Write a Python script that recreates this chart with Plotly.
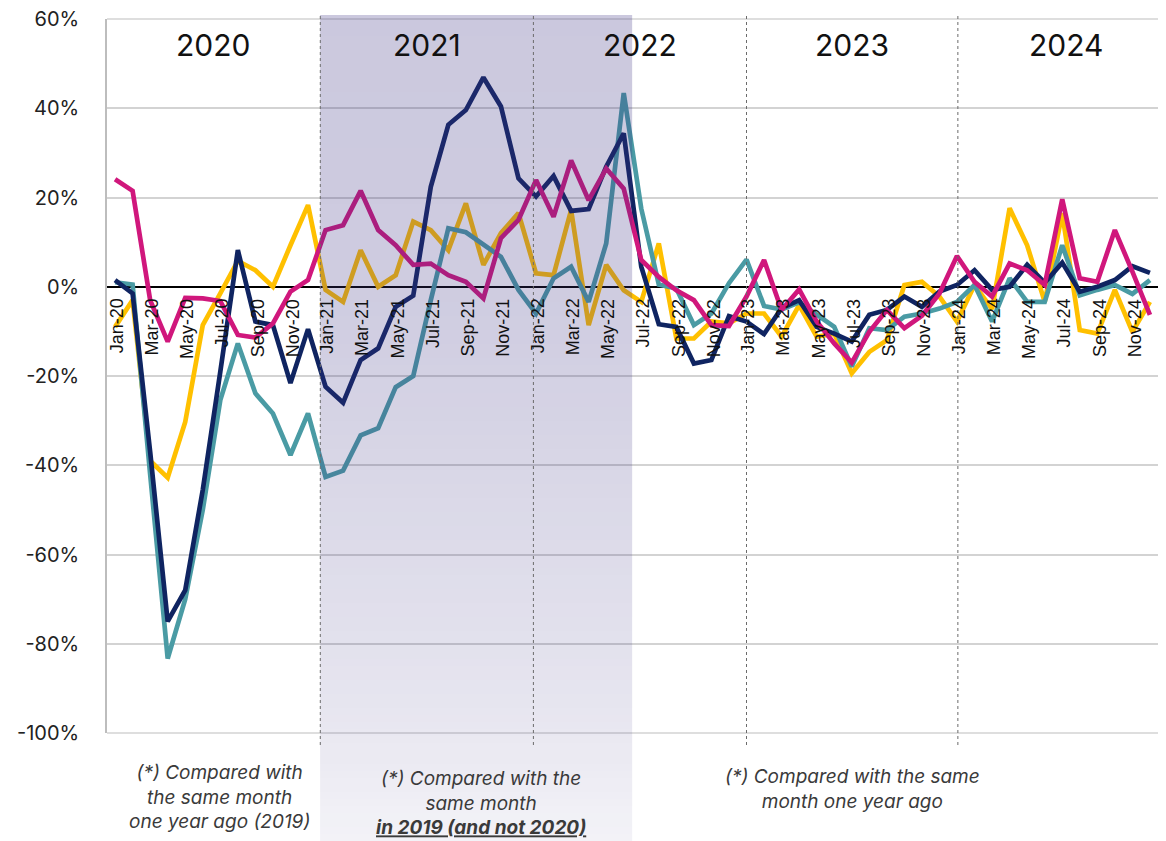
import numpy as np
import plotly.graph_objects as go

# ---- data -----------------------------------------------------------------
month_names = ["Jan", "Feb", "Mar", "Apr", "May", "Jun",
               "Jul", "Aug", "Sep", "Oct", "Nov", "Dec"]
year_suffixes = ["20", "21", "22", "23", "24"]
months = [f"{m}-{y}" for y in year_suffixes for m in month_names]

yellow = [-9, -3, -39, -42.8, -30.3, -8.6, -1.5, 5.8, 3.7, 0, 9.3, 18.3,
          -0.7, -3.4, 8.2, 0, 2.6, 14.6, 12.7, 8.2, 18.7, 4.9, 12, 16.5,
          3, 2.6, 17.2, -8.6, 4.9, -0.8, -3.4, 9.7, -11.6, -11.6, -7.8, -8.2,
          -6, -6, -11.2, -4.1, -11.2, -10.5, -19.4, -14.6, -12, 0.4, 1.1, -2.2,
          -7.8, 0.4, -5, 17.6, 9.3, -3.4, 16.5, -9.7, -10.5, -0.7, -10.1, -3.4]

teal = [1.0, 0.5, -42, -83.3, -70, -50, -25.4, -12.7, -23.9, -28.4, -37.7, -28.4,
        -42.6, -41.2, -33.3, -31.7, -22.5, -20, -3, 13.1, 12.2, 9.3, 6.7, -0.7,
        -6, 1.9, 4.5, -3.4, 9.7, 43.4, 17.5, 0.5, -0.4, -8.6, -6, 0.8,
        6.1, -4.3, -5.1, -3.5, -6.3, -9, -17.9, -9.3, -9.7, -6.7, -6.0, -4.9,
        -3.4, 0.4, -7.8, 1.9, -3.4, -3.4, 9.3, -1.9, -0.7, 0.4, -1.6, 1.5]

navy = [1.5, -1.5, -37, -75, -68, -45.5, -19, 8.2, -7.8, -8.6, -21.6, -9.5,
        -22.4, -26, -16.4, -13.8, -4.5, -2, 22.4, 36.3, 39.6, 46.9, 40.4, 24.3,
        20.2, 24.8, 17, 17.4, 26.9, 34.4, 4.5, -8.4, -9, -17.2, -16.4, -6.6,
        -7.8, -10.6, -4.8, -3, -9, -10.5, -12.3, -6.3, -5.2, -2.2, -4.5, -1.1,
        0.4, 3.7, -0.7, 0, 4.9, 0.9, 5.4, -1.1, 0, 1.5, 4.6, 3.1]

magenta = [24.1, 21.5, -3, -12.3, -2.5, -2.6, -3.2, -10.8, -11.4, -8.2, -1.1, 1.5,
           12.7, 13.8, 21.5, 12.7, 9.3, 4.9, 5.2, 2.6, 1.1, -2.6, 10.9, 15,
           23.9, 15.7, 28.3, 19.4, 26.5, 22, 6, 2.2, -0.8, -3, -8.6, -8.8,
           -2.2, 6, -5.2, -0.6, -7.8, -12.7, -17, -10.1, -5.2, -9.3, -6.5, -1.5,
           6.9, 1.1, -2.2, 5.2, 3.7, 0.4, 19.6, 1.9, 1.1, 12.7, 3.4, -6.3]

year_labels = ["2020", "2021", "2022", "2023", "2024"]
year_label_x = [5.6, 17.8, 29.9, 42.0, 54.2]
period_dividers = [11.7, 23.85, 36.0, 48.05]
band_start, band_end = 11.69, 29.48

y_min, y_max = -100, 60
y_tickvals = [60, 40, 20, 0, -20, -40, -60, -80, -100]
y_ticktext = ["60%", "40%", "20%", "0%", "-20%", "-40%", "-60%", "-80%", "-100%"]

notes = [
    "<i>(*) Compared with<br>the same month<br>one year ago (2019)</i>",
    "<i>(*) Compared with the<br>same month<br><b><u>in 2019 (and not 2020)</u></b></i>",
    "<i>(*) Compared with the same<br>month one year ago</i>",
]

# ---- styling --------------------------------------------------------------
W, H = 1166, 841
M_L, M_R, M_T, M_B = 107, 8, 19, 108
PLOT_H = H - M_T - M_B
FONT = "Inter"
TICK_FONT = "Liberation Sans"
GRID = "#D3D3D3"


def paper_y(px):
    """Convert a pixel row (from the top of the page) to paper units."""
    return (H - M_B - px) / PLOT_H


def paper_x(px):
    return (px - M_L) / (W - M_L - M_R)


series = [
    (yellow, "#FFC000"),
    (teal, "#4A9BA4"),
    (navy, "#0F2461"),
    (magenta, "#D0177C"),
]

fig = go.Figure()
for values, colour in series:
    fig.add_trace(go.Scatter(
        x=months, y=values, mode="lines",
        line=dict(color=colour, width=4.7),
        showlegend=False, hoverinfo="skip",
    ))

shapes = []

# gridlines on the two outer ticks (plotly skips those at the range edges)
for yv in (y_min, y_max):
    shapes.append(dict(
        type="line", xref="paper", yref="paper", x0=0, x1=1,
        y0=(yv - y_min) / (y_max - y_min), y1=(yv - y_min) / (y_max - y_min),
        line=dict(color=GRID, width=1.6), layer="below",
    ))

# shaded comparison period: vertical gradient built from thin strips
strip_px = np.arange(15, 842, 7)
alpha_stops_px = [15, 300, 700, 841]
alpha_stops = [0.27, 0.25, 0.13, 0.06]
for top, bottom in zip(strip_px[:-1], strip_px[1:]):
    a = float(np.interp((top + bottom) / 2, alpha_stops_px, alpha_stops))
    shapes.append(dict(
        type="rect", xref="x", yref="paper",
        x0=band_start, x1=band_end, y0=paper_y(bottom), y1=paper_y(top),
        fillcolor=f"rgba(62,52,132,{a:.4f})", line=dict(width=0),
        layer="above",
    ))

# dotted year dividers
for xd in period_dividers:
    shapes.append(dict(
        type="line", xref="x", yref="paper",
        x0=xd, x1=xd, y0=paper_y(745), y1=paper_y(15),
        line=dict(color="#6b6b6b", width=1, dash="dot"),
        layer="above",
    ))

annotations = []
# month labels sitting just below the zero line
for i in range(0, len(months), 2):
    annotations.append(dict(
        x=i, y=0, xref="x", yref="y", text=months[i],
        textangle=-90, xanchor="center", yanchor="top",
        yshift=-10, xshift=2, showarrow=False,
        font=dict(family=TICK_FONT, size=18, color="#111111"),
    ))

# year headings
for label, xv in zip(year_labels, year_label_x):
    annotations.append(dict(
        x=xv, y=54.2, xref="x", yref="y", text=label,
        xanchor="center", yanchor="middle", showarrow=False,
        font=dict(family=FONT, size=30, color="#111111"),
    ))

# explanatory notes under each period
note_pos = [(219, 797), (481, 803), (852, 788.5)]
for text, (nx, ny) in zip(notes, note_pos):
    annotations.append(dict(
        x=paper_x(nx), y=paper_y(ny), xref="paper", yref="paper",
        text=text, xanchor="center", yanchor="middle", align="center",
        showarrow=False,
        font=dict(family=FONT, size=19, color="#3a3a3a"),
    ))

fig.update_layout(
    width=W, height=H,
    margin=dict(l=M_L, r=M_R, t=M_T, b=M_B, pad=0),
    paper_bgcolor="white", plot_bgcolor="rgba(0,0,0,0)",
    shapes=shapes, annotations=annotations,
    showlegend=False,
)
fig.update_xaxes(
    type="category", categoryorder="array", categoryarray=months,
    range=[-0.46, 59.46], showgrid=False, showticklabels=False,
    zeroline=False, showline=False, ticks="",
)
fig.update_yaxes(
    range=[y_min, y_max], tickvals=y_tickvals, ticktext=y_ticktext,
    showgrid=True, gridcolor=GRID, gridwidth=1.6,
    zeroline=True, zerolinecolor="#000000", zerolinewidth=1.6,
    showline=True, linecolor="#BDBDBD", linewidth=1.5,
    ticks="", ticklabelstandoff=22,
    tickfont=dict(family=FONT, size=20, color="#222222"),
)

fig.write_html("out.html")
